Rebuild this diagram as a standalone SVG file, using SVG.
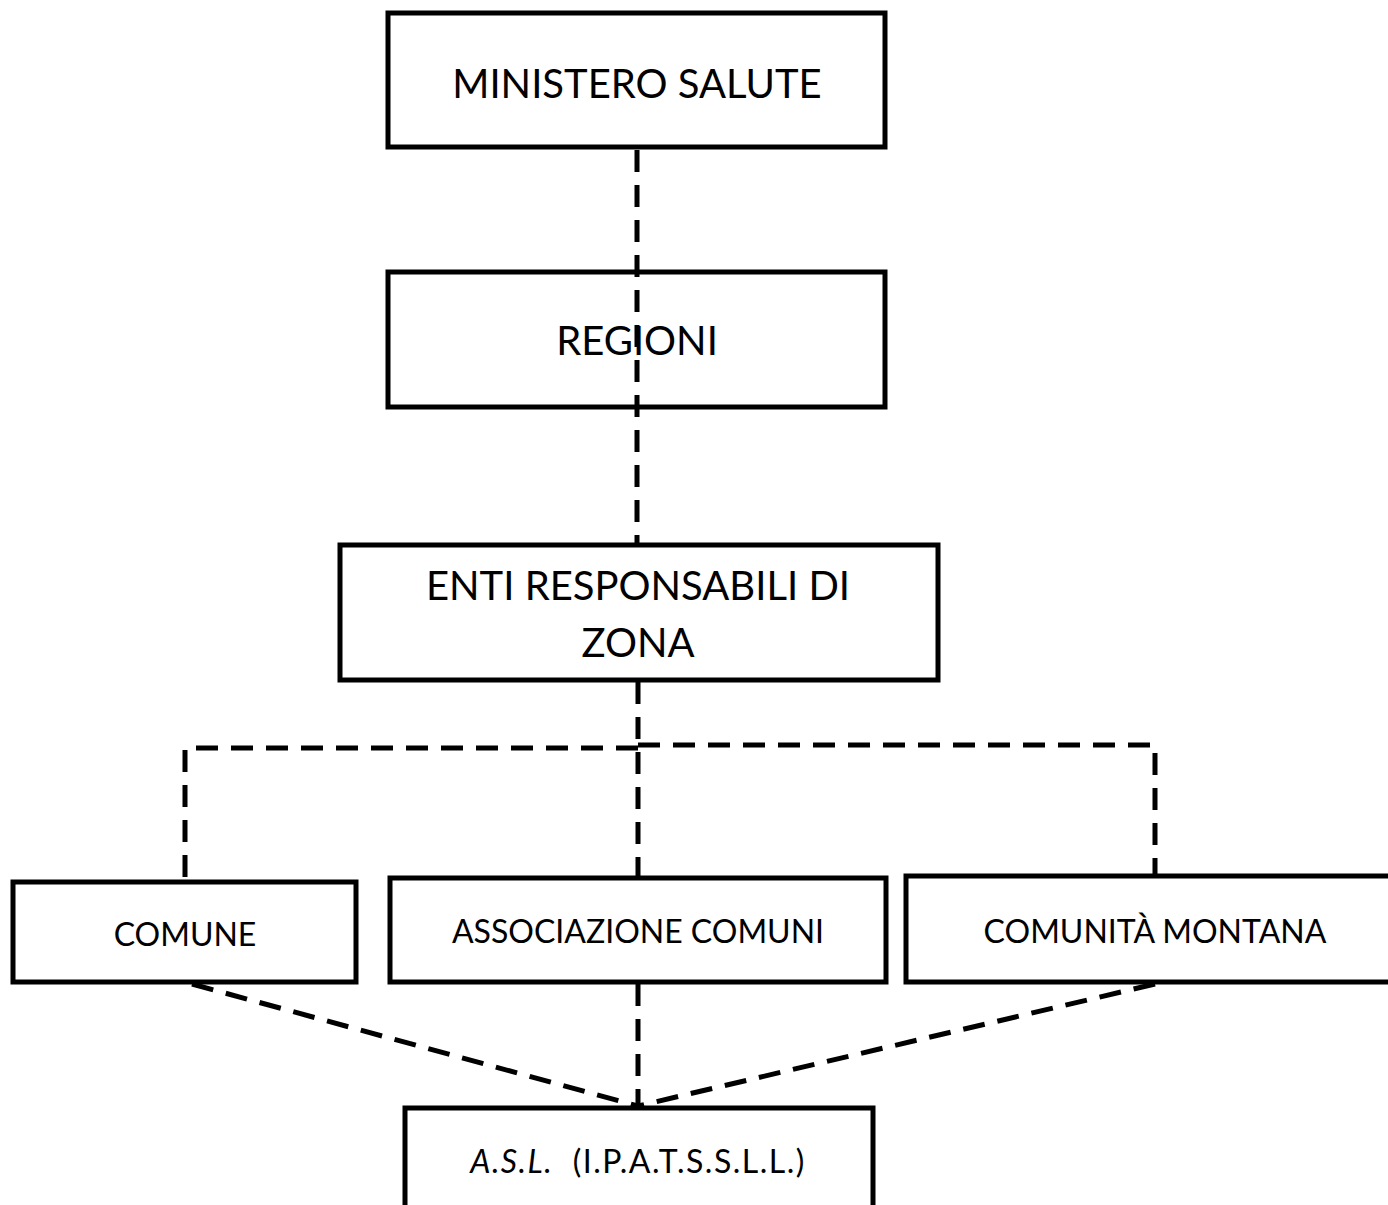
<svg xmlns="http://www.w3.org/2000/svg" width="1388" height="1205" viewBox="0 0 1388 1205">
<style>
.box{fill:#fff;stroke:#000;stroke-width:5}
.big{font-family:Lato,"Open Sans",sans-serif;font-size:40px;fill:#000;text-anchor:middle}
.small{font-family:Lato,"Open Sans",sans-serif;font-size:32px;fill:#000;text-anchor:middle}
.dash{fill:none;stroke:#000;stroke-width:5;stroke-dasharray:22 13}
</style>
<rect width="1388" height="1205" fill="#fff"/>
<g id="ministero"><rect class="box" x="388" y="13" width="497" height="134"/><text class="big" x="637" y="98">MINISTERO SALUTE</text></g>
<g id="regioni"><rect class="box" x="388" y="272" width="497" height="135"/><text class="big" x="637" y="355">REGIONI</text></g>
<g id="enti"><rect class="box" x="340" y="545" width="598" height="135"/><text class="big" x="638" y="600">ENTI RESPONSABILI DI</text><text class="big" x="638" y="657">ZONA</text></g>
<g id="comune"><rect class="box" x="13" y="882" width="343" height="100"/><text class="small" x="185" y="946">COMUNE</text></g>
<g id="associazione"><rect class="box" x="390" y="878" width="496" height="104"/><text class="small" x="638" y="943">ASSOCIAZIONE COMUNI</text></g>
<g id="comunita"><rect class="box" x="906" y="876" width="490" height="106"/><text class="small" x="1155" y="943">COMUNITÀ MONTANA</text></g>
<g id="asl"><rect class="box" x="405" y="1108" width="468" height="120"/><text class="small" x="638" y="1173" style="white-space:pre" letter-spacing="1.5"><tspan font-style="italic">A.S.L.</tspan>  (I.P.A.T.S.S.L.L.)</text></g>
<g id="connectors">
<path class="dash" d="M637 150V545"/>
<path class="dash" d="M638 682V878"/>
<path class="dash" d="M638 748H185V880"/>
<path class="dash" d="M638 745H1155V876"/>
<path class="dash" d="M638 984V1106"/>
<path class="dash" d="M192 984L638 1106"/>
<path class="dash" d="M1155 984L638 1106"/>
</g>
</svg>
